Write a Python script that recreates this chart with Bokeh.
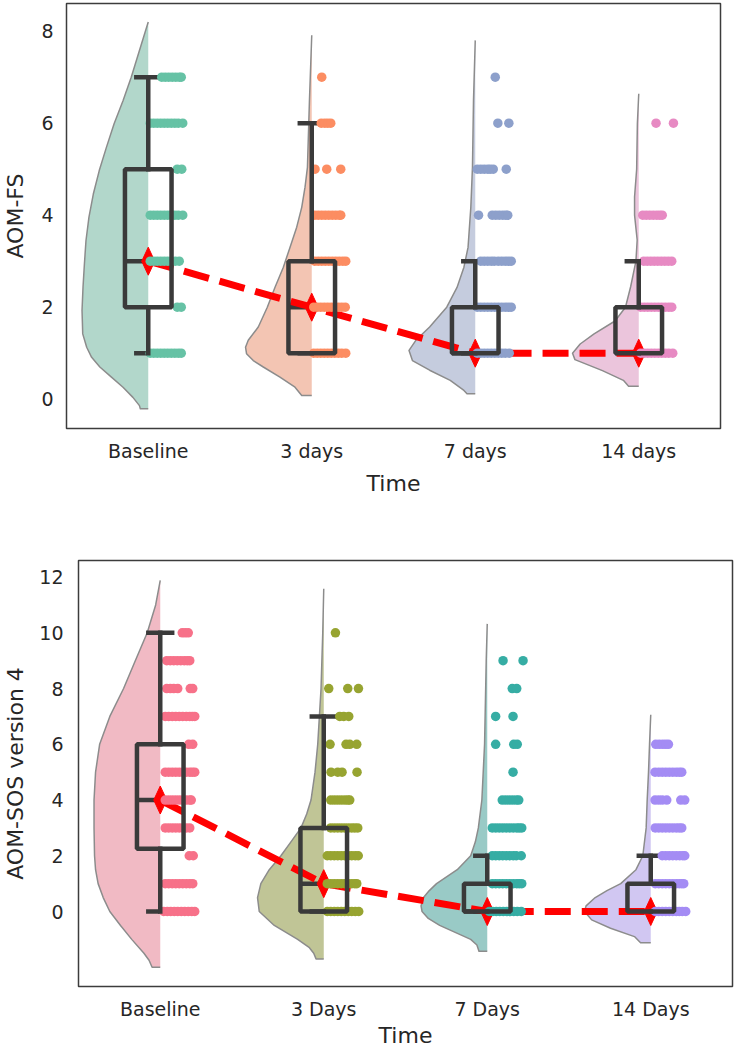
import colorsys
import numpy as np
from bokeh.plotting import figure
from bokeh.layouts import column
from bokeh.models import FixedTicker, Range1d
from bokeh.embed import file_html
from bokeh.resources import INLINE

# ---------------- data: top panel (AOM-FS) ----------------
fs_categories = ["Baseline", "3 days", "7 days", "14 days"]
fs_colors = ["#66c2a5", "#fc8d62", "#8da0cb", "#e78ac3"]
fs_q1 = [2, 1, 1, 1]
fs_median = [3, 2, 1, 1]
fs_q3 = [5, 3, 2, 2]
fs_whisk_lo = [1, 1, 1, 1]
fs_whisk_hi = [7, 6, 3, 3]

# score levels present in each group and the jitter (px right of the category centre) of each dot
fs_base_levels = [1, 2, 3, 4, 5, 6, 7]
fs_base_jit = [[2, 5.5, 9, 12.5, 16, 19.5, 23, 26.5, 30, 33], [29, 33],
               [2, 5.5, 9, 12.5, 16, 19.5, 23, 27, 31],
               [2, 5.5, 9, 12.5, 16, 19.5, 23, 26.5, 30, 34.5], [29, 33.5],
               [2, 5.5, 9, 12.5, 16, 19.5, 23, 26.5, 30, 34.5],
               [13.5, 17, 20.5, 24, 27.5, 31, 33]]
fs_d3_levels = [1, 2, 3, 4, 5, 6, 7]
fs_d3_jit = [[2, 5.5, 9, 12.5, 16, 19.5, 23, 26.5, 30, 34],
             [2, 5.5, 9, 12.5, 16, 19.5, 23, 26.5, 30, 33.5],
             [3, 6.5, 10, 13.5, 17, 20.5, 24, 27.5, 31, 34],
             [3, 6.5, 10, 13.5, 17, 20.5, 24, 27.5, 29],
             [3.3, 15, 29], [9.5, 13, 16, 19], [10]]
fs_d7_levels = [1, 2, 3, 4, 5, 6, 7]
fs_d7_jit = [[2, 5.5, 9, 12.5, 16, 19.5, 23, 26.5, 30, 34],
             [2, 5.5, 9, 12.5, 16, 19.5, 23, 26.5, 30, 33, 36],
             [5.5, 9, 12.5, 16, 19, 23, 26.5, 30, 33, 36],
             [3.3, 17, 20.5, 24, 27.5, 30.5, 32.5],
             [2, 5.5, 9, 12.5, 15, 18, 31], [22.6, 33.6], [20]]
fs_d14_levels = [1, 2, 3, 4, 6]
fs_d14_jit = [[2, 5.5, 9, 12.5, 16, 19.5, 23, 26.5, 30, 34],
              [2, 5.5, 9, 12.5, 16, 19.5, 23, 26.5, 30, 33],
              [5, 8.5, 12, 15.5, 19, 22.5, 26, 29.5, 33],
              [4, 7.5, 11, 14.5, 18, 21, 23.5], [17.3, 34.7]]

# half-violin outlines: score value and relative density
fs_vio_y = [[-0.21, -0.14, 0.04, 0.26, 0.48, 0.70, 0.91, 1.13, 1.42, 1.93, 2.44, 2.94, 3.45,
             3.96, 4.46, 4.97, 5.48, 5.99, 6.49, 7.0, 7.58, 8.2],
            [0.08, 0.26, 0.48, 0.70, 0.84, 0.99, 1.13, 1.28, 1.57, 2.0, 2.43, 2.87, 3.30, 3.74,
             4.17, 4.61, 5.04, 6.49, 7.91],
            [0.12, 0.19, 0.41, 0.63, 0.84, 1.06, 1.28, 1.57, 2.0, 2.43, 2.87, 3.30, 4.17, 5.04,
             6.49, 7.8],
            [0.28, 0.41, 0.62, 0.86, 1.0, 1.2, 1.42, 1.7, 2, 2.45, 3, 3.46, 4, 4.4, 5, 6, 6.64]]
fs_vio_d = [[8, 8.9, 15.5, 25.5, 37.2, 48.9, 57.2, 62.2, 66.2, 66.9, 65.9, 64.5, 62.9, 59.9,
             55.5, 49.5, 42.2, 34.5, 25.5, 17.2, 8.9, 0],
            [10, 16.7, 31.7, 48.3, 58.3, 65, 66, 63.3, 53.3, 44.3, 36.7, 28.3, 21.7, 15, 10,
             6.7, 4.3, 2.3, 0],
            [8, 11, 24.3, 44.3, 61, 64.3, 57.7, 44.3, 27.7, 17.7, 11, 7, 4.3, 2.7, 1.7, 0],
            [9.7, 14.7, 34.7, 61, 63.3, 56, 42.7, 22.7, 12.7, 7.7, 2.7, 1.5, 4, 4, 2, 1.3, 0]]
fs_yticks = [0, 2, 4, 6, 8]

# ---------------- data: bottom panel (AOM-SOS version 4) ----------------
sos_categories = ["Baseline", "3 Days", "7 Days", "14 Days"]
sos_colors = ["#f77189", "#97a431", "#36ada4", "#a48cf4"]
sos_q1 = [2.25, 0, 0, 0]
sos_median = [4, 1, 0, 0]
sos_q3 = [6, 3, 1, 1]
sos_whisk_lo = [0, 0, 0, 0]
sos_whisk_hi = [10, 7, 2, 2]

sos_base_levels = [0, 1, 2, 3, 4, 5, 6, 7, 8, 9, 10]
sos_base_jit = [[3.5, 7, 10.5, 14, 17.5, 21, 24.5, 28, 31.5, 34.5],
                [5, 8.5, 12, 15.5, 19, 22.5, 26, 29.5, 32.5],
                [29, 33],
                [5, 8.5, 12, 15.5, 19, 22.5, 26, 29.5],
                [5, 8.5, 12, 15.5, 19, 22.5, 26, 29.5, 31],
                [5, 8.5, 12, 15.5, 19, 22.5, 26, 29.5, 32, 34.5],
                [28.5, 32.5],
                [5, 8.5, 12, 15.5, 19, 22.5, 26, 29.5, 32, 34.5],
                [6.5, 10, 13.5, 17.5, 30, 32.5],
                [6.5, 10, 13.5, 17, 20.5, 24, 27, 29.5],
                [22, 25, 28]]
sos_d3_levels = [0, 1, 2, 3, 4, 5, 6, 7, 8, 10]
sos_d3_jit = [[3.5, 7, 10.5, 14, 17.5, 21, 24.5, 28, 31.5, 35],
              [3.5, 7, 10.5, 14, 17.5, 21, 24.5, 28, 31, 33],
              [3.5, 7, 10.5, 14, 17.5, 21, 24.5, 28, 31.5, 34.5],
              [7, 10.5, 14, 17.5, 21, 24.5, 28, 31, 34],
              [7, 10.5, 14, 17.5, 21, 24, 26],
              [7.3, 14, 18.3, 33.3],
              [6.3, 22.3, 26, 33],
              [16, 20, 25],
              [5, 24, 34.7],
              [11.7]]
sos_d7_levels = [0, 1, 2, 3, 4, 5, 6, 7, 8, 9]
sos_d7_jit = [[2, 5.5, 9, 12.5, 16, 19.5, 23, 26.5, 30, 34],
              [5, 8.5, 12, 15.5, 19, 22.5, 26, 29.5, 32, 34.5],
              [5, 8.5, 12, 15.5, 19, 22.5, 26, 29, 34],
              [5, 8.5, 12, 15.5, 19, 22.5, 26, 29.5, 32, 34.5],
              [15, 18.5, 22, 25.5, 29, 31.5],
              [25.8],
              [8.4, 26.5, 30],
              [8.4, 25.8],
              [25, 29.5],
              [15.8, 35.8]]
sos_d14_levels = [0, 1, 2, 3, 4, 5, 6]
sos_d14_jit = [[4.5, 8, 11.5, 15, 18.5, 22, 25.5, 28.5, 31.5, 35],
               [4.5, 8, 11.5, 15, 18.5, 22, 25.5, 28.5, 31, 33],
               [11.5, 15, 18.5, 22, 25.5, 29, 32, 34],
               [4.5, 8, 11.5, 15, 18.5, 22, 25.5, 28.5, 31],
               [4.3, 8, 11.5, 16, 30, 34],
               [4.3, 8, 11.5, 15, 18.5, 22, 25.5, 28.5, 31],
               [5, 8.5, 12, 15, 17.7]]

sos_vio_y = [[-2.0, -1.75, -1.5, -1, -0.5, 0, 0.5, 1, 1.5, 2, 3, 4, 5, 6, 7, 8, 9, 10, 11, 11.88],
             [-1.7, -1.5, -1.3, -1, -0.5, 0, 0.5, 1, 1.5, 2, 2.5, 3, 3.5, 4, 5, 6, 8, 10, 11.58],
             [-1.43, -1.2, -1, -0.75, -0.5, -0.25, 0, 0.2, 0.5, 0.75, 1, 1.5, 2, 2.5, 3, 4, 6, 9,
              10.32],
             [-1.12, -0.9, -0.6, -0.3, 0, 0.2, 0.5, 0.75, 1, 1.5, 2, 3, 4, 5, 6, 7.06]]
sos_vio_d = [[8, 11, 16, 28, 39, 49.5, 56, 61, 63.5, 64.5, 65, 65, 63.5, 59.5, 49.5, 36, 24.5,
              12.8, 4.5, 0],
             [7.7, 10, 14.3, 26, 49.3, 64.3, 66, 62.7, 54.3, 42.7, 32.7, 22.7, 17, 12.7, 8.7, 6,
              2.7, 1, 0],
             [8, 10, 16, 31, 46, 57, 63, 64, 61.6, 56, 49, 29, 16, 11.5, 8.6, 5.2, 2.6, 1, 0],
             [10, 16, 39.5, 58, 65, 63.5, 54.5, 43, 29.5, 14.5, 7.8, 4.5, 3.5, 2.2, 1.2, 0]]
sos_yticks = [0, 2, 4, 6, 8, 10, 12]

# ---------------- styling ----------------
FONT = "DejaVu Sans"
TEXT = "#262626"
BOX = "#3a3a3a"
BOX_LW = 4.5
VIOLIN_HALF = 0.405   # category units
BOX_W = 0.285
CAP_HALF = 0.073
DOT = 9.5


def desaturate(hex_color, prop=0.75):
    r, g, b = (int(hex_color[k:k + 2], 16) / 255.0 for k in (1, 3, 5))
    h, l, s = colorsys.rgb_to_hls(r, g, b)
    r, g, b = colorsys.hls_to_rgb(h, l, s * prop)
    return "#%02x%02x%02x" % (round(r * 255), round(g * 255), round(b * 255))


def make_panel(cats, colors, levels, jits, vio_y, vio_d, q1, med, q3, wlo, whi,
               yticks, ylabel, y_range, frame_w, frame_h, borders, standoffs):
    bl, br, bt, bb = borders
    p = figure(frame_width=frame_w, frame_height=frame_h,
               min_border_left=bl, min_border_right=br,
               min_border_top=bt, min_border_bottom=bb,
               x_range=Range1d(-0.5, 3.5), y_range=Range1d(*y_range),
               output_backend="svg", toolbar_location=None)
    p.frame_align = False
    px_x = frame_w / 4.0
    px_y = frame_h / (y_range[1] - y_range[0])
    p.background_fill_color = "white"
    p.border_fill_color = "white"
    p.outline_line_color = "#3c3c3c"
    p.outline_line_width = 1.5
    p.xgrid.visible = False
    p.ygrid.visible = False
    left = [i - BOX_W / 2 for i in range(4)]
    right = [i + BOX_W / 2 for i in range(4)]

    # half violins (clouds)
    for i in range(4):
        y = np.array(vio_y[i], dtype=float)
        d = np.array(vio_d[i], dtype=float)
        d = d / d.max() * VIOLIN_HALF
        xs = [i] + list(i - d) + [i]
        ys = [y[0]] + list(y) + [y[-1]]
        p.patch(xs, ys, fill_color=desaturate(colors[i]), fill_alpha=0.55, line_alpha=0)
        p.line([i] + list(i - d), [y[0]] + list(y), line_color="#8c8c8c",
               line_width=1.5, line_join="round")

    # caps and median lines (beneath the rain)
    for i in range(4):
        p.segment(x0=[i - CAP_HALF, i - CAP_HALF], y0=[whi[i], wlo[i]],
                  x1=[i + CAP_HALF, i + CAP_HALF], y1=[whi[i], wlo[i]],
                  line_color=BOX, line_width=BOX_LW, line_cap="square")
    p.segment(x0=left, y0=med, x1=right, y1=med, line_color=BOX, line_width=BOX_LW)

    # medians connected with a red dashed line, red thin diamonds
    p.line(list(range(4)), med, line_color="#ff0000", line_width=7, line_dash="26 11")
    dw = 6.5 / px_x
    dh = 14.0 / px_y
    p.patches([[i - dw, i, i + dw, i] for i in range(4)],
              [[m, m + dh, m, m - dh] for m in med],
              fill_color="#ff0000", line_color="#ff0000", line_width=1)

    # rain (strip) points
    for i in range(4):
        xs, ys = [], []
        for lev, jl in zip(levels[i], jits[i]):
            for j in jl:
                xs.append(i + j / px_x)
                ys.append(lev)
        p.scatter(xs, ys, size=DOT, fill_color=colors[i], line_color=None)

    # box body and whiskers on top
    for i in range(4):
        p.segment(x0=[i, i], y0=[q3[i], q1[i]], x1=[i, i], y1=[whi[i], wlo[i]],
                  line_color=BOX, line_width=BOX_LW, line_cap="square")
    p.quad(left=left, right=right, bottom=q1, top=q3, fill_alpha=0,
           line_color=BOX, line_width=BOX_LW)

    p.xaxis.ticker = FixedTicker(ticks=[0, 1, 2, 3])
    p.xaxis.major_label_overrides = {i: c for i, c in enumerate(cats)}
    p.yaxis.ticker = FixedTicker(ticks=yticks)
    p.xaxis.axis_label = "Time"
    p.yaxis.axis_label = ylabel
    for ax in (p.xaxis[0], p.yaxis[0]):
        ax.axis_line_color = None
        ax.major_tick_line_color = None
        ax.minor_tick_line_color = None
        ax.major_tick_out = 0
        ax.major_tick_in = 0
        ax.major_label_text_font = FONT
        ax.major_label_text_font_size = "19px"
        ax.major_label_text_color = TEXT
        ax.axis_label_text_font = FONT
        ax.axis_label_text_font_size = "22px"
        ax.axis_label_text_font_style = "normal"
        ax.axis_label_text_color = TEXT
    xls, xas, yls, yas = standoffs
    p.xaxis.major_label_standoff = xls
    p.xaxis.axis_label_standoff = xas
    p.yaxis.major_label_standoff = yls
    p.yaxis.axis_label_standoff = yas
    return p


p1 = make_panel(fs_categories, fs_colors,
                [fs_base_levels, fs_d3_levels, fs_d7_levels, fs_d14_levels],
                [fs_base_jit, fs_d3_jit, fs_d7_jit, fs_d14_jit],
                fs_vio_y, fs_vio_d, fs_q1, fs_median, fs_q3, fs_whisk_lo, fs_whisk_hi,
                fs_yticks, "AOM-FS", (-0.637, 8.602), 654, 425, (66, 16, 3, 82),
                (11, 6, 13, 10))

p2 = make_panel(sos_categories, sos_colors,
                [sos_base_levels, sos_d3_levels, sos_d7_levels, sos_d14_levels],
                [sos_base_jit, sos_d3_jit, sos_d7_jit, sos_d14_jit],
                sos_vio_y, sos_vio_d, sos_q1, sos_median, sos_q3, sos_whisk_lo, sos_whisk_hi,
                sos_yticks, "AOM-SOS version 4", (-2.691, 12.594), 654, 426, (78, 4, 50, 62),
                (11, 0, 15, 8))

layout = column(p1, p2, spacing=0)
open("out.html", "w").write(file_html(layout, INLINE))
